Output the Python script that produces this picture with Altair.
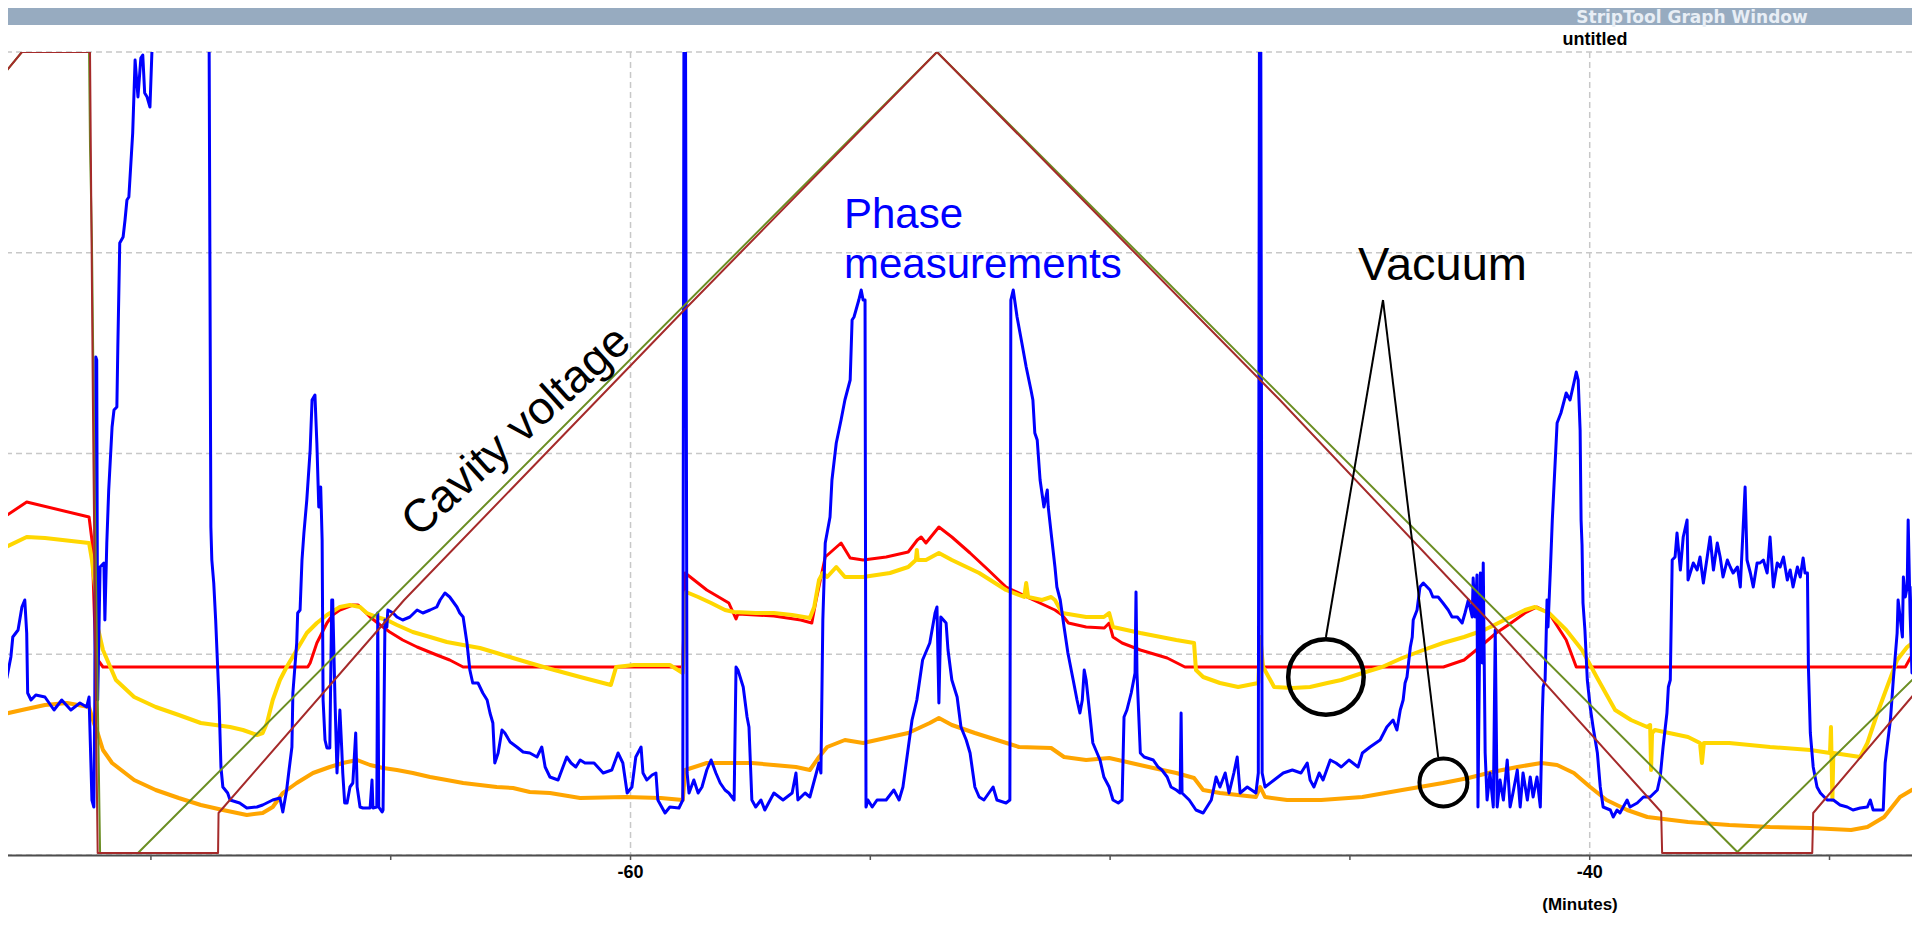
import altair as alt
import pandas as pd

# ---------------- data (minutes, signal level) ----------------
X_DOMAIN = [-72.98, -33.28]
Y_DOMAIN = [0, 803]
X_TICKS = [-70, -65, -60, -55, -50, -45, -40, -35]
X_LABELS = [(-60, "-60"), (-40, "-40")]
X_GRID = [-60, -40]
Y_GRID = [0, 200.75, 401.5, 602.25, 803]

BLUE = [(-73.15,155),(-73.07,165),(-73.00,178),(-72.92,198),(-72.88,218),(-72.77,225),(-72.69,248),(-72.63,255),(-72.59,222),(-72.57,162),(-72.50,155),(-72.40,160),(-72.21,158),(-72.02,145),(-71.86,155),(-71.67,145),(-71.48,152),(-71.34,148),(-71.29,158),(-71.23,55),(-71.19,48),(-71.17,155),(-71.15,498),(-71.13,495),(-71.11,155),(-71.06,288),(-70.98,292),(-70.96,235),(-70.92,312),(-70.88,365),(-70.81,428),(-70.77,445),(-70.71,448),(-70.69,508),(-70.65,612),(-70.58,618),(-70.54,635),(-70.50,655),(-70.46,658),(-70.38,722),(-70.33,795),(-70.27,758),(-70.21,797),(-70.17,800),(-70.13,762),(-70.08,758),(-70.02,748),(-69.98,802),(-69.92,860),(-68.79,860),(-68.75,328),(-68.73,295),(-68.69,272),(-68.65,235),(-68.58,155),(-68.54,88),(-68.50,68),(-68.40,62),(-68.35,55),(-68.15,52),(-68.00,47),(-67.79,48),(-67.67,50),(-67.46,55),(-67.31,57),(-67.25,43),(-67.17,65),(-67.12,85),(-67.06,108),(-67.04,162),(-66.96,212),(-66.94,242),(-66.89,245),(-66.85,295),(-66.81,322),(-66.75,355),(-66.68,405),(-66.64,455),(-66.58,460),(-66.54,412),(-66.50,348),(-66.46,368),(-66.43,315),(-66.41,155),(-66.37,115),(-66.33,107),(-66.27,107),(-66.23,255),(-66.21,255),(-66.16,152),(-66.12,82),(-66.06,145),(-66.02,105),(-66.00,82),(-65.96,52),(-65.91,52),(-65.85,68),(-65.79,72),(-65.73,122),(-65.70,68),(-65.64,48),(-65.58,47),(-65.43,47),(-65.39,75),(-65.37,47),(-65.29,48),(-65.27,242),(-65.25,48),(-65.18,43),(-65.16,45),(-65.12,235),(-65.08,228),(-65.06,245),(-64.95,242),(-64.87,238),(-64.75,235),(-64.60,238),(-64.45,245),(-64.33,242),(-64.18,245),(-64.04,248),(-63.97,255),(-63.87,262),(-63.77,258),(-63.62,248),(-63.56,242),(-63.49,238),(-63.41,212),(-63.35,185),(-63.29,172),(-63.18,172),(-63.08,162),(-62.99,155),(-62.93,142),(-62.87,132),(-62.83,92),(-62.76,102),(-62.68,125),(-62.62,122),(-62.51,113),(-62.37,108),(-62.24,103),(-62.10,102),(-61.95,98),(-61.85,108),(-61.78,88),(-61.68,78),(-61.51,75),(-61.33,98),(-61.24,92),(-61.14,88),(-61.05,95),(-60.95,92),(-60.76,92),(-60.57,82),(-60.39,85),(-60.26,102),(-60.16,92),(-60.07,62),(-59.97,68),(-59.89,98),(-59.78,108),(-59.74,82),(-59.66,75),(-59.55,80),(-59.47,82),(-59.43,55),(-59.28,42),(-59.18,48),(-58.99,47),(-58.91,55),(-58.885,860),(-58.855,860),(-58.82,82),(-58.78,62),(-58.68,75),(-58.59,62),(-58.51,68),(-58.41,85),(-58.32,95),(-58.22,82),(-58.13,72),(-58.03,65),(-57.95,62),(-57.84,55),(-57.80,188),(-57.76,185),(-57.65,168),(-57.57,138),(-57.53,128),(-57.47,55),(-57.39,48),(-57.28,55),(-57.20,45),(-57.01,62),(-56.82,55),(-56.63,62),(-56.55,82),(-56.51,55),(-56.36,62),(-56.26,58),(-56.07,92),(-56.03,82),(-55.99,235),(-55.94,312),(-55.84,338),(-55.80,375),(-55.71,412),(-55.61,435),(-55.53,455),(-55.42,475),(-55.38,535),(-55.34,538),(-55.24,555),(-55.19,565),(-55.15,555),(-55.11,555),(-55.09,48),(-55.05,55),(-54.96,48),(-54.86,55),(-54.67,55),(-54.51,65),(-54.40,55),(-54.32,68),(-54.13,135),(-54.03,155),(-53.91,195),(-53.76,212),(-53.65,242),(-53.61,248),(-53.57,152),(-53.53,238),(-53.42,232),(-53.38,205),(-53.30,175),(-53.19,158),(-53.11,128),(-53.00,115),(-52.92,102),(-52.82,68),(-52.73,58),(-52.63,55),(-52.44,68),(-52.36,55),(-52.17,52),(-52.09,55),(-52.07,555),(-52.02,565),(-51.94,538),(-51.84,512),(-51.75,488),(-51.65,465),(-51.61,455),(-51.57,422),(-51.52,415),(-51.46,375),(-51.38,348),(-51.31,365),(-51.29,348),(-51.23,322),(-51.15,288),(-51.11,268),(-51.04,255),(-50.96,228),(-50.88,202),(-50.77,175),(-50.69,155),(-50.63,142),(-50.58,155),(-50.54,185),(-50.50,175),(-50.44,148),(-50.36,112),(-50.21,95),(-50.13,78),(-50.02,68),(-49.94,55),(-49.83,52),(-49.75,55),(-49.71,138),(-49.65,145),(-49.56,162),(-49.48,182),(-49.46,263),(-49.44,182),(-49.37,102),(-49.29,98),(-49.10,95),(-49.00,88),(-48.92,85),(-48.81,78),(-48.73,68),(-48.62,65),(-48.54,62),(-48.52,142),(-48.50,62),(-48.35,55),(-48.21,45),(-48.06,42),(-47.89,55),(-47.79,78),(-47.71,68),(-47.60,82),(-47.52,62),(-47.42,82),(-47.35,98),(-47.29,62),(-47.14,68),(-46.96,62),(-46.91,82),(-46.885,860),(-46.86,860),(-46.83,82),(-46.77,68),(-46.58,75),(-46.39,82),(-46.20,85),(-46.02,82),(-45.89,92),(-45.83,75),(-45.75,68),(-45.64,82),(-45.56,75),(-45.41,95),(-45.29,92),(-45.18,88),(-45.02,95),(-44.83,88),(-44.74,102),(-44.58,108),(-44.37,115),(-44.23,128),(-44.10,135),(-44.02,125),(-43.95,145),(-43.89,155),(-43.85,172),(-43.81,178),(-43.74,208),(-43.70,218),(-43.68,235),(-43.60,245),(-43.54,268),(-43.47,272),(-43.39,268),(-43.33,265),(-43.27,258),(-43.16,258),(-43.06,252),(-42.95,245),(-42.87,238),(-42.76,238),(-42.66,232),(-42.60,242),(-42.53,255),(-42.45,238),(-42.43,277),(-42.39,238),(-42.35,280),(-42.33,48),(-42.28,282),(-42.24,192),(-42.22,292),(-42.18,102),(-42.14,55),(-42.08,82),(-42.01,48),(-41.97,225),(-41.93,48),(-41.87,75),(-41.80,55),(-41.72,95),(-41.66,48),(-41.60,62),(-41.51,85),(-41.45,48),(-41.39,82),(-41.30,55),(-41.24,78),(-41.18,58),(-41.10,78),(-41.03,48),(-40.99,138),(-40.97,168),(-40.93,175),(-40.89,255),(-40.87,228),(-40.82,285),(-40.78,335),(-40.68,432),(-40.60,442),(-40.49,462),(-40.41,455),(-40.33,472),(-40.28,483),(-40.24,475),(-40.20,425),(-40.18,335),(-40.16,310),(-40.14,252),(-40.10,225),(-40.05,175),(-39.99,148),(-39.93,128),(-39.84,102),(-39.78,68),(-39.72,48),(-39.57,45),(-39.51,38),(-39.43,45),(-39.37,42),(-39.22,55),(-39.16,48),(-39.01,52),(-38.88,58),(-38.74,58),(-38.59,65),(-38.53,78),(-38.47,108),(-38.39,142),(-38.36,168),(-38.32,175),(-38.28,295),(-38.22,298),(-38.18,322),(-38.11,285),(-38.05,318),(-37.97,335),(-37.95,275),(-37.84,292),(-37.76,285),(-37.70,298),(-37.63,272),(-37.55,298),(-37.49,318),(-37.42,285),(-37.34,312),(-37.28,298),(-37.22,278),(-37.13,295),(-37.07,288),(-37.01,282),(-36.92,288),(-36.86,268),(-36.76,368),(-36.72,295),(-36.65,282),(-36.59,268),(-36.51,292),(-36.45,292),(-36.38,295),(-36.30,282),(-36.24,318),(-36.17,268),(-36.09,292),(-36.03,288),(-35.96,298),(-35.88,275),(-35.82,285),(-35.76,268),(-35.67,288),(-35.61,278),(-35.55,297),(-35.51,282),(-35.46,282),(-35.44,188),(-35.40,122),(-35.34,88),(-35.26,68),(-35.19,62),(-35.05,55),(-34.92,55),(-34.78,50),(-34.63,48),(-34.51,45),(-34.36,47),(-34.21,48),(-34.15,55),(-34.09,45),(-33.88,45),(-33.84,92),(-33.80,108),(-33.73,135),(-33.67,175),(-33.59,222),(-33.57,255),(-33.48,218),(-33.46,278),(-33.42,258),(-33.38,268),(-33.36,335),(-33.32,242),(-33.28,182),(-33.26,268),(-33.17,255),(-33.15,202),(-33.11,235)]

RED = [(-73.15,335),(-72.59,353),(-71.29,338),(-71.23,315),(-71.15,198),(-71.00,188),(-66.73,188),(-66.68,192),(-66.54,212),(-66.33,232),(-66.21,240),(-66.06,245),(-65.79,250),(-65.68,250),(-65.43,238),(-65.22,230),(-65.02,223),(-64.75,215),(-64.45,208),(-64.04,200),(-63.77,195),(-63.49,188),(-58.91,188),(-58.86,282),(-58.41,265),(-57.95,252),(-57.80,236),(-57.76,241),(-57.01,239),(-56.45,235),(-56.22,232),(-56.13,255),(-55.94,298),(-55.61,312),(-55.42,297),(-55.15,295),(-54.67,298),(-54.21,303),(-54.02,315),(-53.94,318),(-53.84,312),(-53.57,328),(-53.30,318),(-52.92,302),(-52.54,285),(-52.17,268),(-51.60,255),(-51.15,245),(-51.00,240),(-50.87,232),(-50.50,228),(-50.12,227),(-50.02,232),(-49.94,218),(-49.75,212),(-49.37,205),(-48.81,197),(-48.44,188),(-43.05,188),(-42.62,195),(-42.29,208),(-41.95,222),(-41.70,230),(-41.35,242),(-41.10,248),(-40.85,242),(-40.49,215),(-40.28,188),(-33.42,188),(-33.28,200),(-33.11,220)]

YELLOW = [(-73.15,305),(-72.59,318),(-72.21,317),(-71.29,312),(-71.23,295),(-71.15,262),(-71.11,228),(-71.00,205),(-70.73,175),(-70.35,158),(-69.90,148),(-69.42,140),(-68.96,132),(-68.35,128),(-68.08,125),(-67.79,120),(-67.67,122),(-67.58,132),(-67.46,155),(-67.31,175),(-67.17,188),(-66.96,205),(-66.75,222),(-66.54,232),(-66.33,240),(-66.06,248),(-65.85,250),(-65.64,248),(-65.50,242),(-65.29,238),(-65.08,235),(-64.87,230),(-64.54,223),(-64.18,218),(-63.83,213),(-63.49,210),(-63.14,207),(-62.79,202),(-62.45,197),(-62.10,192),(-61.74,187),(-61.05,178),(-60.41,170),(-60.30,188),(-59.93,190),(-59.18,190),(-58.91,182),(-58.84,263),(-58.59,258),(-58.32,252),(-58.03,245),(-57.84,243),(-57.39,242),(-57.01,242),(-56.63,240),(-56.26,237),(-56.17,248),(-56.07,275),(-55.99,282),(-55.90,278),(-55.71,288),(-55.53,278),(-55.15,278),(-54.59,282),(-54.21,288),(-54.05,295),(-54.03,305),(-54.01,295),(-53.84,295),(-53.57,302),(-53.30,295),(-52.73,282),(-52.17,265),(-51.79,258),(-51.75,272),(-51.71,258),(-51.42,255),(-51.23,258),(-51.15,255),(-51.00,242),(-50.50,238),(-50.13,238),(-50.02,242),(-49.94,228),(-49.37,222),(-48.62,215),(-48.25,212),(-48.21,185),(-48.06,178),(-47.71,172),(-47.33,168),(-46.91,172),(-46.87,218),(-46.81,188),(-46.58,168),(-46.20,167),(-45.83,168),(-45.47,172),(-45.18,175),(-44.74,182),(-44.33,188),(-43.91,197),(-43.47,205),(-43.06,212),(-42.62,218),(-42.20,225),(-41.78,235),(-41.35,245),(-41.14,248),(-40.85,242),(-40.49,225),(-40.16,205),(-39.82,175),(-39.47,145),(-39.14,135),(-38.80,128),(-38.74,130),(-38.72,85),(-38.70,122),(-38.64,125),(-37.95,118),(-37.70,112),(-37.66,92),(-37.62,112),(-37.09,112),(-36.24,108),(-35.40,105),(-34.99,102),(-34.97,128),(-34.94,55),(-34.92,102),(-34.36,98),(-34.21,112),(-34.00,142),(-33.80,168),(-33.59,195),(-33.38,208),(-33.11,218)]

ORANGE = [(-73.15,140),(-72.69,145),(-72.21,150),(-71.75,152),(-71.29,148),(-71.19,132),(-71.11,122),(-71.00,105),(-70.81,92),(-70.35,75),(-69.90,65),(-69.42,57),(-68.96,50),(-68.50,45),(-68.00,40),(-67.67,42),(-67.46,48),(-67.25,62),(-66.96,72),(-66.62,82),(-66.27,88),(-66.00,92),(-65.70,95),(-65.43,90),(-65.16,87),(-64.87,85),(-64.54,82),(-64.18,78),(-63.83,75),(-63.49,72),(-63.14,70),(-62.79,68),(-62.45,67),(-62.10,63),(-61.68,62),(-61.05,57),(-60.11,58),(-59.37,57),(-58.91,55),(-58.86,85),(-58.41,92),(-57.47,92),(-56.55,88),(-56.26,85),(-56.07,98),(-55.90,108),(-55.53,115),(-55.15,112),(-54.21,122),(-53.76,132),(-53.57,137),(-53.30,130),(-52.82,122),(-52.36,115),(-51.90,108),(-51.23,107),(-50.96,98),(-50.50,95),(-50.02,97),(-49.56,92),(-49.10,87),(-48.62,82),(-48.25,77),(-48.06,65),(-47.71,62),(-46.96,58),(-46.87,68),(-46.77,58),(-46.31,55),(-45.60,55),(-44.74,58),(-43.91,65),(-43.06,72),(-42.53,77),(-42.03,83),(-41.51,88),(-41.01,92),(-40.68,90),(-40.33,82),(-39.99,68),(-39.65,55),(-39.22,45),(-38.80,38),(-37.95,33),(-37.09,30),(-36.24,28),(-35.40,27),(-34.55,25),(-34.21,28),(-33.86,38),(-33.53,58),(-33.11,70)]

CAVITY_A = [(-73.15,776),(-72.69,803),(-71.27,803),(-71.21,455),(-71.15,155),(-71.11,2),(-68.60,2),(-68.59,42),(-64.72,255),(-58.88,545),(-53.61,803),(-46.46,455),(-42.12,235),(-38.51,43),(-38.49,2),(-35.36,2),(-35.34,42),(-33.11,168)]

CAVITY_B = [(-73.15,776),(-72.69,803),(-71.29,803),(-71.27,708),(-71.23,615),(-71.17,355),(-71.06,2),(-70.27,2),(-53.61,803),(-36.92,3),(-33.11,183)]

CAVITY_LABEL = [(-62.38, 423.5, "Cavity voltage")]
PHASE_LABEL = [(-55.55, 627, "Phase"), (-55.55, 577, "measurements")]
VACUUM_LABEL = [(-44.83, 575, "Vacuum")]
VACUUM_ARROWS = [(-44.31, 555, -45.50, 218), (-44.31, 555, -43.16, 98)]
VACUUM_BIG = [(-45.50, 178)]
VACUUM_SMALL = [(-43.05, 72.5)]

# ---------------- chart ----------------
FONT = "Liberation Sans"
W, H = 1904, 803


def frame(points):
    return pd.DataFrame({"t": [p[0] for p in points],
                         "v": [p[1] for p in points],
                         "i": list(range(len(points)))})


xs = alt.Scale(domain=X_DOMAIN, nice=False, zero=False)
ys = alt.Scale(domain=Y_DOMAIN, nice=False, zero=False)


def X(field="t"):
    return alt.X(f"{field}:Q", scale=xs, axis=None)


def Y(field="v"):
    return alt.Y(f"{field}:Q", scale=ys, axis=None)


def line(points, color, width):
    return alt.Chart(frame(points)).mark_line(
        color=color, strokeWidth=width, clip=True, strokeJoin="round"
    ).encode(x=X(), y=Y(), order="i:Q")


hgrid = alt.Chart(pd.DataFrame({"v": Y_GRID})).mark_rule(
    color="#c8c8c8", strokeWidth=1.5, strokeDash=[6, 4]
).encode(y=Y())

vgrid = alt.Chart(pd.DataFrame({"t": X_GRID})).mark_rule(
    color="#c8c8c8", strokeWidth=1.5, strokeDash=[6, 4]
).encode(x=X())

# hand-built bottom axis (ticks every 5 min, labels every 20 min)
dummy = pd.DataFrame({"k": [0]})
axis_line = alt.Chart(dummy).mark_rule(color="#4d4d4d", strokeWidth=2).encode(
    x=alt.value(0), x2=alt.value(W), y=alt.value(H + 0.5))
axis_ticks = alt.Chart(pd.DataFrame({"t": X_TICKS})).mark_rule(
    color="#555555", strokeWidth=1.5).encode(x=X(), y=alt.value(H), y2=alt.value(H + 5))
axis_labels = alt.Chart(pd.DataFrame({"t": [l[0] for l in X_LABELS],
                                      "txt": [l[1] for l in X_LABELS]})).mark_text(
    font=FONT, fontSize=18, fontWeight="bold", color="#000000",
    align="center", baseline="alphabetic"
).encode(x=X(), y=alt.value(H + 23), text="txt:N")
axis_title = alt.Chart(dummy).mark_text(
    text="(Minutes)", font=FONT, fontSize=17, fontWeight="bold", color="#000000",
    align="center", baseline="alphabetic"
).encode(x=alt.value(1572), y=alt.value(H + 55))

red = line(RED, "#ff0000", 3)
yellow = line(YELLOW, "#ffd700", 4)
orange = line(ORANGE, "#ffa500", 4)
blue = line(BLUE, "#0000ff", 3)
green = line(CAVITY_B, "#6b8e23", 2)
brown = line(CAVITY_A, "#a52a2a", 2)


def labels(rows):
    return pd.DataFrame({"t": [r[0] for r in rows], "v": [r[1] for r in rows],
                         "txt": [r[2] for r in rows]})


cavity_text = alt.Chart(labels(CAVITY_LABEL)).mark_text(
    font=FONT, fontSize=46, color="#000000", angle=318, align="center", baseline="middle"
).encode(x=X(), y=Y(), text="txt:N")

phase_text = alt.Chart(labels(PHASE_LABEL)).mark_text(
    font=FONT, fontSize=42, color="#0000ff", align="left", baseline="alphabetic"
).encode(x=X(), y=Y(), text="txt:N")

vacuum_text = alt.Chart(labels(VACUUM_LABEL)).mark_text(
    font=FONT, fontSize=47, color="#000000", align="left", baseline="alphabetic"
).encode(x=X(), y=Y(), text="txt:N")

arrow_df = pd.DataFrame({"t": [a[0] for a in VACUUM_ARROWS], "v": [a[1] for a in VACUUM_ARROWS],
                         "t2": [a[2] for a in VACUUM_ARROWS], "v2": [a[3] for a in VACUUM_ARROWS]})
arrows = alt.Chart(arrow_df).mark_rule(color="#000000", strokeWidth=2).encode(
    x=X(), y=Y(), x2="t2:Q", y2="v2:Q")

big_circle = alt.Chart(frame(VACUUM_BIG)).mark_point(
    shape="circle", filled=False, size=5700, color="#000000", strokeWidth=4.5, opacity=1
).encode(x=X(), y=Y())

small_circle = alt.Chart(frame(VACUUM_SMALL)).mark_point(
    shape="circle", filled=False, size=2300, color="#000000", strokeWidth=4, opacity=1
).encode(x=X(), y=Y())

title_bar = alt.Chart(dummy).mark_rect(color="#97abc0").encode(
    x=alt.value(0), x2=alt.value(W), y=alt.value(-44), y2=alt.value(-27))

window_title = alt.Chart(dummy).mark_text(
    text="StripTool Graph Window", font="DejaVu Sans", fontSize=17, fontWeight="bold",
    color="#e8eef5", align="center", baseline="alphabetic"
).encode(x=alt.value(1684), y=alt.value(-29))

untitled = alt.Chart(dummy).mark_text(
    text="untitled", font=FONT, fontSize=18, fontWeight="bold",
    color="#000000", align="center", baseline="alphabetic"
).encode(x=alt.value(1587), y=alt.value(-7))

chart = alt.layer(
    hgrid, vgrid, axis_line, axis_ticks, axis_labels, axis_title,
    red, yellow, orange, blue, green, brown,
    cavity_text, phase_text, vacuum_text, arrows, big_circle, small_circle,
    title_bar, window_title, untitled,
).properties(
    width=W, height=H,
    padding={"left": 0, "top": 44, "right": 0, "bottom": 58},
    autosize=alt.AutoSizeParams(type="none"),
    background="white",
).configure_view(stroke=None)

chart.save("out.html", embed_options={"renderer": "svg", "actions": False})
